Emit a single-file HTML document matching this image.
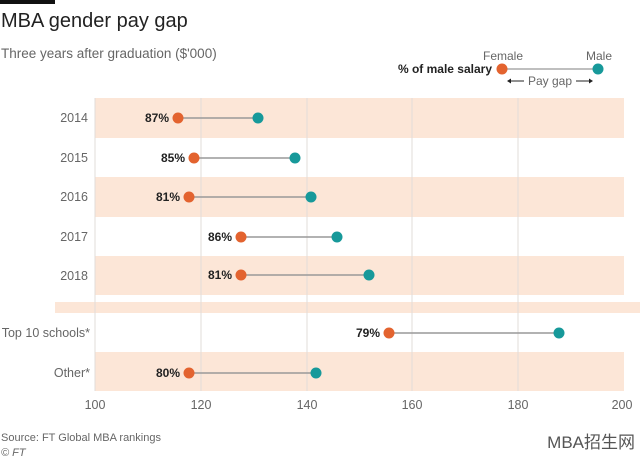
<!DOCTYPE html>
<html><head><meta charset="utf-8"><style>
body{margin:0;background:#fff;}
svg{display:block;font-family:"Liberation Sans",sans-serif;}
</style></head><body>
<svg width="640" height="457" viewBox="0 0 640 457">
<rect x="0" y="0" width="55" height="4" fill="#111"/>
<text x="1" y="27" font-size="20" fill="#222">MBA gender pay gap</text>
<text x="1" y="58" font-size="13.5" fill="#666">Three years after graduation ($'000)</text>
<text x="503" y="60" font-size="12" fill="#666" text-anchor="middle">Female</text>
<text x="599" y="60" font-size="12" fill="#666" text-anchor="middle">Male</text>
<text x="492" y="73" font-size="12" font-weight="bold" fill="#222" text-anchor="end">% of male salary</text>
<line x1="502" y1="69" x2="598" y2="69" stroke="#aaa" stroke-width="1.5"/>
<circle cx="502" cy="69" r="5.5" fill="#e3632f"/>
<circle cx="598" cy="69" r="5.5" fill="#17999a"/>
<text x="550" y="85" font-size="12" fill="#666" text-anchor="middle">Pay gap</text>
<line x1="509" y1="81" x2="524" y2="81" stroke="#222"/><path d="M507 81 l4 -2.5 v5z" fill="#222"/>
<line x1="576" y1="81" x2="591" y2="81" stroke="#222"/><path d="M593 81 l-4 -2.5 v5z" fill="#222"/>
<g fill="#fce6d7">
<rect x="95" y="98" width="529" height="40"/>
<rect x="95" y="177" width="529" height="40"/>
<rect x="95" y="256" width="529" height="39"/>
<rect x="55" y="302" width="585" height="11"/>
<rect x="95" y="352" width="529" height="39"/>
</g>
<g stroke="#e2dcd8" stroke-width="1">
<line x1="95" y1="98" x2="95" y2="391"/>
<line x1="201" y1="98" x2="201" y2="391"/>
<line x1="307" y1="98" x2="307" y2="391"/>
<line x1="412" y1="98" x2="412" y2="391"/>
<line x1="518" y1="98" x2="518" y2="391"/>
</g>
<g font-size="12.5" fill="#666" text-anchor="end">
<text x="88" y="122">2014</text>
<text x="88" y="162">2015</text>
<text x="88" y="201">2016</text>
<text x="88" y="241">2017</text>
<text x="88" y="280">2018</text>
<text x="90" y="337">Top 10 schools*</text>
<text x="90" y="377">Other*</text>
</g>
<g font-size="12.5" fill="#666" text-anchor="middle">
<text x="95" y="409">100</text><text x="201" y="409">120</text><text x="307" y="409">140</text>
<text x="412" y="409">160</text><text x="518" y="409">180</text><text x="622" y="409">200</text>
</g>
<g stroke="#999" stroke-width="1.5">
<line x1="178" y1="118" x2="258" y2="118"/>
<line x1="194" y1="158" x2="295" y2="158"/>
<line x1="189" y1="197" x2="311" y2="197"/>
<line x1="241" y1="237" x2="337" y2="237"/>
<line x1="241" y1="275" x2="369" y2="275"/>
<line x1="389" y1="333" x2="559" y2="333"/>
<line x1="189" y1="373" x2="316" y2="373"/>
</g>
<g fill="#e3632f">
<circle cx="178" cy="118" r="5.5"/><circle cx="194" cy="158" r="5.5"/><circle cx="189" cy="197" r="5.5"/>
<circle cx="241" cy="237" r="5.5"/><circle cx="241" cy="275" r="5.5"/><circle cx="389" cy="333" r="5.5"/><circle cx="189" cy="373" r="5.5"/>
</g>
<g fill="#17999a">
<circle cx="258" cy="118" r="5.5"/><circle cx="295" cy="158" r="5.5"/><circle cx="311" cy="197" r="5.5"/>
<circle cx="337" cy="237" r="5.5"/><circle cx="369" cy="275" r="5.5"/><circle cx="559" cy="333" r="5.5"/><circle cx="316" cy="373" r="5.5"/>
</g>
<g font-size="12" font-weight="bold" fill="#222" text-anchor="end">
<text x="169" y="122">87%</text><text x="185" y="162">85%</text><text x="180" y="201">81%</text>
<text x="232" y="241">86%</text><text x="232" y="279">81%</text><text x="380" y="337">79%</text><text x="180" y="377">80%</text>
</g>
<text x="1" y="441" font-size="11" fill="#666">Source: FT Global MBA rankings</text>
<text x="1" y="456" font-size="11" font-style="italic" fill="#666">© FT</text>
<text x="635" y="448" font-size="17" fill="#555" text-anchor="end" font-family="'Liberation Sans','Noto Sans CJK SC',sans-serif">MBA招生网</text>
</svg>
</body></html>
